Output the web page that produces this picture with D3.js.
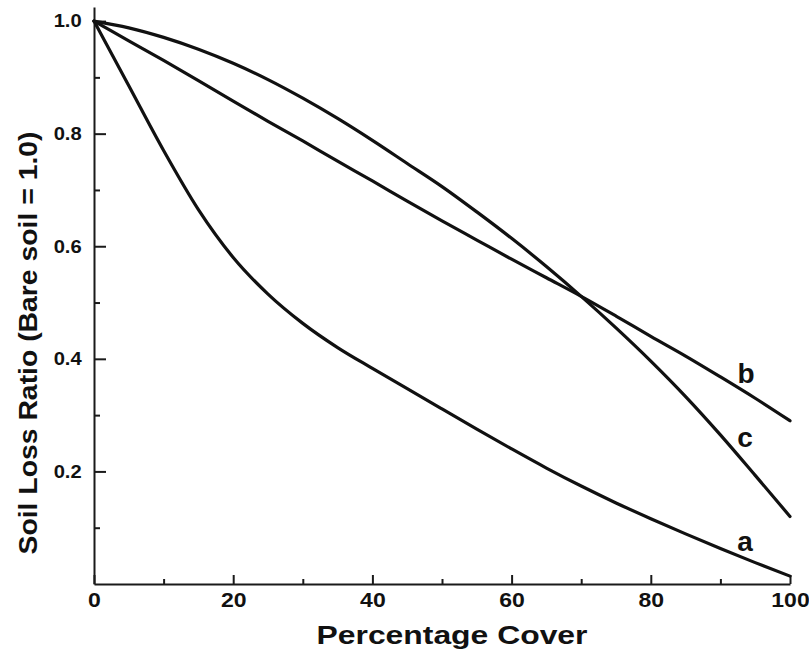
<!DOCTYPE html>
<html>
<head>
<meta charset="utf-8">
<script src="https://cdn.jsdelivr.net/npm/d3@7"></script>
<style>
  body { margin: 0; background: #fff; }
  text { font-family: "Liberation Sans", Arial, Helvetica, sans-serif; fill: #111; }
</style>
</head>
<body>
<div id="chart"></div>
<script>
// percentage cover (x) and soil loss ratio for the three curves
const cover   = [0, 5, 10, 15, 20, 25, 30, 35, 40, 45, 50, 55, 60, 65, 70, 75, 80, 85, 90, 95, 100];
const curveA  = [1.0, 0.885, 0.77, 0.665, 0.58, 0.515, 0.463, 0.42, 0.383, 0.347, 0.311, 0.275, 0.24, 0.206, 0.174, 0.144, 0.116, 0.089, 0.063, 0.038, 0.014];
const curveB  = [1.0, 0.965, 0.93, 0.894, 0.858, 0.822, 0.787, 0.751, 0.716, 0.68, 0.645, 0.611, 0.577, 0.544, 0.511, 0.476, 0.44, 0.405, 0.368, 0.33, 0.29];
const curveC  = [1.0, 0.988, 0.971, 0.95, 0.925, 0.896, 0.863, 0.827, 0.788, 0.747, 0.706, 0.661, 0.614, 0.564, 0.511, 0.455, 0.396, 0.333, 0.265, 0.193, 0.12];
const seriesNames = ["a", "b", "c"];

const xMajor = [0, 20, 40, 60, 80, 100];
const xMinor = [10, 30, 50, 70, 90];
const yMajor = [0.2, 0.4, 0.6, 0.8, 1.0];
const yMinor = [0.1, 0.3, 0.5, 0.7, 0.9];

const width = 809, height = 654;

let svg = d3.select("#chart")
    .append("svg")
    .attr("width", width)
    .attr("height", height);

//=================================================
// Scales
//=================================================
let x = d3.scaleLinear().domain([0, 100]).range([94, 790]);
let y = d3.scaleLinear().domain([0, 1.025]).range([584, 7]);

//=================================================
// Axes (ticks point inward)
//=================================================
let axisY = svg.append("g")
    .attr("transform", "translate(" + x(0) + ",0)")
    .call(d3.axisLeft(y).tickValues(yMajor).tickFormat(d3.format(".1f"))
        .tickSizeInner(-12).tickSizeOuter(0).tickPadding(11));
svg.append("g")
    .attr("transform", "translate(" + x(0) + ",0)")
    .call(d3.axisLeft(y).tickValues(yMinor).tickFormat("").tickSizeInner(-6).tickSizeOuter(0))
    .call(g => g.select(".domain").remove());

let axisX = svg.append("g")
    .attr("transform", "translate(0," + y(0) + ")")
    .call(d3.axisBottom(x).tickValues(xMajor)
        .tickSizeInner(-9).tickSizeOuter(0).tickPadding(9));
svg.append("g")
    .attr("transform", "translate(0," + y(0) + ")")
    .call(d3.axisBottom(x).tickValues(xMinor).tickFormat("").tickSizeInner(-5).tickSizeOuter(0))
    .call(g => g.select(".domain").remove());

svg.selectAll(".domain, .tick line").attr("stroke", "#1a1a1a").attr("stroke-width", 2);
axisY.selectAll("text")
    .attr("font-family", "'Liberation Sans', Arial, sans-serif")
    .attr("font-size", 18).attr("font-weight", "bold").attr("fill", "#111")
    .attr("transform", "scale(1.12,1)");
axisX.selectAll("text")
    .attr("font-family", "'Liberation Sans', Arial, sans-serif")
    .attr("font-size", 20).attr("font-weight", "bold").attr("fill", "#111")
    .attr("transform", "scale(1.15,1)");

//=================================================
// Axis titles
//=================================================
svg.append("text")
    .attr("x", 452).attr("y", 644)
    .attr("text-anchor", "middle")
    .attr("font-size", 25).attr("font-weight", "bold")
    .attr("textLength", 271).attr("lengthAdjust", "spacingAndGlyphs")
    .text("Percentage Cover");

svg.append("text")
    .attr("transform", "translate(37,343) rotate(-90)")
    .attr("text-anchor", "middle")
    .attr("font-size", 25).attr("font-weight", "bold")
    .attr("textLength", 423).attr("lengthAdjust", "spacingAndGlyphs")
    .text("Soil Loss Ratio (Bare soil = 1.0)");

//=================================================
// Curves
//=================================================
let line = d3.line()
    .x((d, i) => x(cover[i]))
    .y(d => y(d))
    .curve(d3.curveMonotoneX);

[curveA, curveB, curveC].forEach(s => {
    svg.append("path")
        .attr("d", line(s))
        .attr("fill", "none")
        .attr("stroke", "#111")
        .attr("stroke-width", 3.2)
        .attr("stroke-linecap", "round");
});

// curve labels
let labelPos = [[745, 551], [746, 383], [745, 447]];
seriesNames.forEach((n, i) => {
    svg.append("text")
        .attr("x", labelPos[i][0]).attr("y", labelPos[i][1])
        .attr("text-anchor", "middle")
        .attr("font-size", 28).attr("font-weight", "bold")
        .text(n);
});
</script>
</body>
</html>
